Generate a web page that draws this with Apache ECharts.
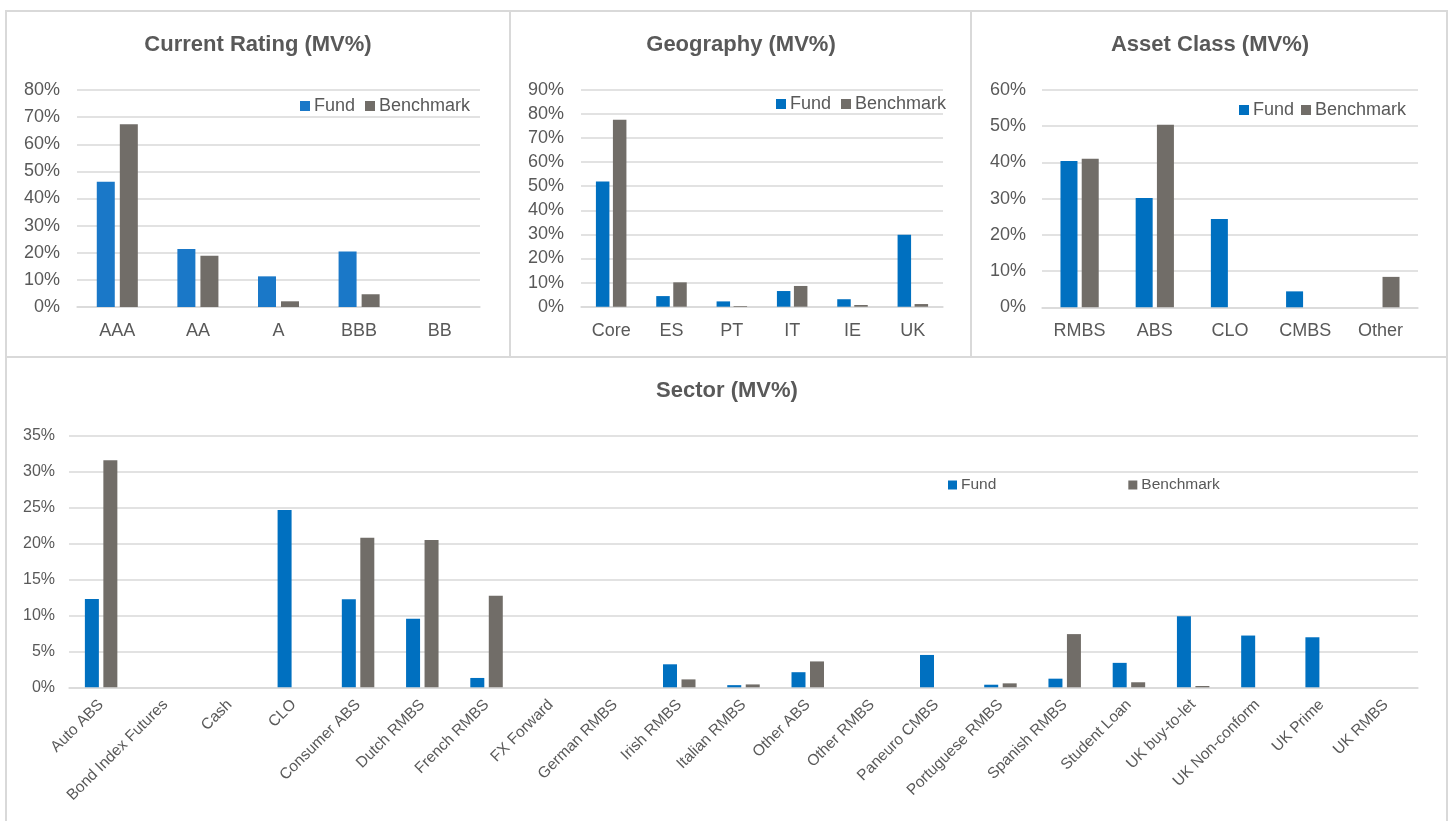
<!DOCTYPE html>
<html>
<head>
<meta charset="utf-8">
<title>Portfolio breakdown (MV%)</title>
<script src="https://cdn.jsdelivr.net/npm/echarts@6/dist/echarts.min.js"></script>
<style>
  html, body { margin: 0; padding: 0; background: #ffffff; }
  #chart { width: 1450px; height: 821px; }
</style>
</head>
<body>
<div id="chart"></div>
<script>
// ---- data (percent of market value) ----
const ratingCats = ['AAA', 'AA', 'A', 'BBB', 'BB'];
const ratingFund = [46.2, 21.4, 11.3, 20.5, 0];
const ratingBench = [67.4, 18.9, 2.1, 4.7, 0];

const geoCats = ['Core', 'ES', 'PT', 'IT', 'IE', 'UK'];
const geoFund = [51.9, 4.4, 2.2, 6.5, 3.1, 29.8];
const geoBench = [77.5, 10.1, 0.3, 8.6, 0.7, 1.1];

const assetCats = ['RMBS', 'ABS', 'CLO', 'CMBS', 'Other'];
const assetFund = [40.4, 30.2, 24.4, 4.4, 0];
const assetBench = [41.0, 50.4, 0, 0, 8.4];

const sectorCats = ['Auto ABS', 'Bond Index Futures', 'Cash', 'CLO', 'Consumer ABS', 'Dutch RMBS',
  'French RMBS', 'FX Forward', 'German RMBS', 'Irish RMBS', 'Italian RMBS', 'Other ABS', 'Other RMBS',
  'Paneuro CMBS', 'Portuguese RMBS', 'Spanish RMBS', 'Student Loan', 'UK buy-to-let', 'UK Non-conform',
  'UK Prime', 'UK RMBS'];
const sectorFund = [12.3, 0, 0, 24.65, 12.25, 9.55, 1.3, 0, 0, 3.2, 0.3, 2.1, 0, 4.5, 0.36, 1.2, 3.4, 9.9, 7.2, 6.96, 0];
const sectorBench = [31.6, 0, 0, 0, 20.8, 20.5, 12.75, 0, 0, 1.1, 0.4, 3.6, 0, 0, 0.55, 7.4, 0.7, 0.18, 0, 0, 0];

// axis ranges
const ratingMax = 80, geoMax = 90, assetMax = 60, sectorMax = 35;

// ---- styling ----
const FONT = '"Liberation Sans", Arial, Helvetica, sans-serif';
const TEXT = '#595959';
const LINE = '#d9d9d9';
const FUND = '#0070c0';
const FUND_LIGHT = '#1a78c8';
const BENCH = '#716d68';

// panel layout: plot rectangle, bars, legend placement
const panels = [
  { cats: ratingCats, fund: ratingFund, bench: ratingBench, max: ratingMax, step: 10, fundColor: FUND_LIGHT,
    grid: { left: 77, top: 90, width: 403, height: 217 }, barWidth: 18, barGap: '28%',
    font: 18, xFont: 18, yMargin: 17, xMargin: 15, rotate: 0,
    legend: { left: 300, top: 97, gap: 10, size: 10, font: 18 } },
  { cats: geoCats, fund: geoFund, bench: geoBench, max: geoMax, step: 10, fundColor: FUND,
    grid: { left: 581, top: 89.7, width: 362, height: 217 }, barWidth: 13.5, barGap: '26%',
    font: 18, xFont: 18, yMargin: 17, xMargin: 15, rotate: 0,
    legend: { left: 776, top: 95, gap: 10, size: 10, font: 18 } },
  { cats: assetCats, fund: assetFund, bench: assetBench, max: assetMax, step: 10, fundColor: FUND,
    grid: { left: 1042, top: 90, width: 376, height: 217.3 }, barWidth: 17, barGap: '25%',
    font: 18, xFont: 18, yMargin: 16, xMargin: 15, rotate: 0,
    legend: { left: 1239, top: 101, gap: 7, size: 10, font: 18 } },
  { cats: sectorCats, fund: sectorFund, bench: sectorBench, max: sectorMax, step: 5, fundColor: FUND,
    grid: { left: 69, top: 435.7, width: 1349, height: 251.6 }, barWidth: 14, barGap: '32%',
    font: 16, xFont: 15.5, yMargin: 14, xMargin: 15, rotate: 45,
    legend: { left: 948, top: 477, gap: 132, size: 9, font: 15.5 } }
];

const titles = [
  { text: 'Current Rating (MV%)', x: 258, y: 45 },
  { text: 'Geography (MV%)', x: 741, y: 45 },
  { text: 'Asset Class (MV%)', x: 1210, y: 45 },
  { text: 'Sector (MV%)', x: 727, y: 391 }
];

const option = {
  backgroundColor: '#ffffff',
  animation: false,
  textStyle: { fontFamily: FONT, color: TEXT },
  grid: [], xAxis: [], yAxis: [], series: [], legend: [],
  graphic: []
};

panels.forEach((p, i) => {
  option.grid.push(Object.assign({ containLabel: false }, p.grid));
  option.xAxis.push({
    type: 'category', gridIndex: i, data: p.cats,
    axisLine: { show: true, lineStyle: { color: LINE, width: 1.5 } },
    axisTick: { show: false },
    axisLabel: {
      interval: 0, rotate: p.rotate, margin: p.xMargin,
      fontFamily: FONT, fontSize: p.xFont, color: TEXT
    },
    splitLine: { show: false }
  });
  option.yAxis.push({
    type: 'value', gridIndex: i, min: 0, max: p.max, interval: p.step,
    axisLine: { show: false }, axisTick: { show: false },
    axisLabel: { formatter: '{value}%', margin: p.yMargin, fontFamily: FONT, fontSize: p.font, color: TEXT },
    splitLine: { show: true, lineStyle: { color: LINE, width: 1.5 } }
  });
  option.series.push({
    name: 'Fund', type: 'bar', xAxisIndex: i, yAxisIndex: i, data: p.fund,
    barWidth: p.barWidth, barGap: p.barGap,
    itemStyle: { color: p.fundColor }
  });
  option.series.push({
    name: 'Benchmark', type: 'bar', xAxisIndex: i, yAxisIndex: i, data: p.bench,
    barWidth: p.barWidth, barGap: p.barGap,
    itemStyle: { color: BENCH }
  });
  option.legend.push({
    left: p.legend.left, top: p.legend.top, orient: 'horizontal',
    itemWidth: p.legend.size, itemHeight: p.legend.size, itemGap: p.legend.gap,
    selectedMode: false, padding: 0,
    textStyle: { fontFamily: FONT, fontSize: p.legend.font, color: TEXT, padding: [0, 0, 0, -1] },
    data: [
      { name: 'Fund', icon: 'rect', itemStyle: { color: p.fundColor } },
      { name: 'Benchmark', icon: 'rect', itemStyle: { color: BENCH } }
    ]
  });
});

// panel frames
const frameStyle = { stroke: LINE, lineWidth: 2, fill: null };
option.graphic.push(
  { type: 'rect', shape: { x: 6, y: 11, width: 1441, height: 830 }, style: frameStyle, silent: true },
  { type: 'line', shape: { x1: 6, y1: 357, x2: 1447, y2: 357 }, style: frameStyle, silent: true },
  { type: 'line', shape: { x1: 510, y1: 11, x2: 510, y2: 357 }, style: frameStyle, silent: true },
  { type: 'line', shape: { x1: 971, y1: 11, x2: 971, y2: 357 }, style: frameStyle, silent: true }
);

// panel titles
titles.forEach(t => {
  option.graphic.push({
    type: 'text', x: t.x, y: t.y, silent: true,
    style: {
      text: t.text, fill: TEXT, align: 'center', verticalAlign: 'middle',
      font: 'bold 22px ' + FONT
    }
  });
});

const chart = echarts.init(document.getElementById('chart'), null, { renderer: 'canvas' });
chart.setOption(option);
</script>
</body>
</html>
